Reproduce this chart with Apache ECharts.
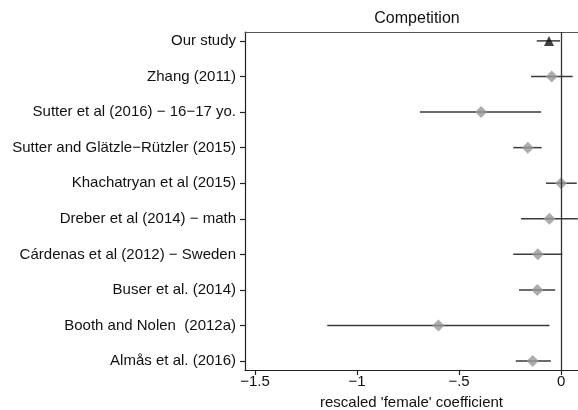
<!DOCTYPE html>
<html>
<head>
<meta charset="utf-8">
<script src="https://cdn.jsdelivr.net/npm/echarts@6/dist/echarts.min.js"></script>
<style>
html,body{margin:0;padding:0;background:#fff;}
#chart{width:578px;height:410px;}
</style>
</head>
<body>
<div id="chart"></div>
<script>
// Studies listed from bottom (position 1) to top (position 10)
const studies = [
  "Almås et al. (2016)",
  "Booth and Nolen  (2012a)",
  "Buser et al. (2014)",
  "Cárdenas et al (2012) − Sweden",
  "Dreber et al (2014) − math",
  "Khachatryan et al (2015)",
  "Sutter and Glätzle−Rützler (2015)",
  "Sutter et al (2016) − 16−17 yo.",
  "Zhang (2011)",
  "Our study"
];
const estimates = [-0.139, -0.601, -0.116, -0.114, -0.057, 0.0, -0.163, -0.392, -0.046, -0.059];
const ciLow     = [-0.222, -1.146, -0.206, -0.234, -0.196, -0.074, -0.234, -0.691, -0.147, -0.119];
const ciHigh    = [-0.050, -0.057, -0.029, 0.006, 0.082, 0.077, -0.095, -0.098, 0.057, -0.005];
const xTicks = [-1.5, -1, -0.5, 0];
const xTickLabels = ["−1.5", "−1", "−.5", "0"];

const positions = studies.map((s, i) => i + 1);
const font = "'Liberation Sans', Arial, Helvetica, sans-serif";

const ciData = studies.map((s, i) => [ciLow[i], ciHigh[i], positions[i]]);
const literature = [];
const ours = [];
studies.forEach((s, i) => {
  if (s === "Our study") ours.push([estimates[i], positions[i]]);
  else literature.push([estimates[i], positions[i]]);
});

const chart = echarts.init(document.getElementById('chart'));
chart.setOption({
  animation: false,
  backgroundColor: '#fff',
  title: {
    text: 'Competition',
    left: 412,
    top: 6,
    textAlign: 'center',
    textStyle: {fontFamily: font, fontSize: 16, fontWeight: 'normal', color: '#111'}
  },
  grid: {left: 245, right: 0, top: 32, bottom: 40, containLabel: false, outerBoundsMode: 'none'},
  xAxis: [{
    type: 'value',
    min: -1.549,
    max: 0.083,
    position: 'bottom',
    splitLine: {show: false},
    axisLine: {show: true, onZero: false, lineStyle: {color: '#222', width: 1.2}},
    axisTick: {show: true, length: 5, customValues: xTicks, lineStyle: {color: '#222', width: 1.2}},
    axisLabel: {
      customValues: xTicks,
      margin: 4,
      fontFamily: font, fontSize: 15, color: '#111',
      formatter: v => {
        const k = xTicks.findIndex(t => Math.abs(t - v) < 1e-9);
        return k >= 0 ? xTickLabels[k] : '';
      }
    },
    name: "rescaled 'female' coefficient",
    nameLocation: 'middle',
    nameGap: 25,
    nameTextStyle: {fontFamily: font, fontSize: 15, color: '#111'}
  }, {
    type: 'value',
    min: -1.549,
    max: 0.083,
    position: 'top',
    splitLine: {show: false},
    axisLine: {show: true, onZero: false, lineStyle: {color: '#555', width: 1.2}},
    axisTick: {show: false},
    axisLabel: {show: false}
  }],
  yAxis: {
    type: 'value',
    min: 0.75,
    max: 10.25,
    position: 'left',
    splitLine: {show: false},
    axisLine: {show: true, onZero: false, lineStyle: {color: '#222', width: 1.2}},
    axisTick: {show: true, length: 5, customValues: positions, lineStyle: {color: '#222', width: 1.2}},
    axisLabel: {
      customValues: positions,
      margin: 9,
      fontFamily: font, fontSize: 15, color: '#111',
      formatter: v => studies[Math.round(v) - 1] || ''
    }
  },
  series: [{
    type: 'custom',
    data: ciData,
    encode: {x: [0, 1], y: 2},
    renderItem: (params, api) => {
      const a = api.coord([api.value(0), api.value(2)]);
      const b = api.coord([api.value(1), api.value(2)]);
      return {
        type: 'line',
        shape: {x1: a[0], y1: a[1], x2: b[0], y2: b[1]},
        style: {stroke: '#3a3a3a', lineWidth: 1.5}
      };
    },
    z: 2,
    markLine: {
      silent: true,
      symbol: 'none',
      label: {show: false},
      lineStyle: {color: '#333', width: 1.3, type: 'solid'},
      data: [{xAxis: 0}]
    }
  }, {
    type: 'scatter',
    data: literature,
    symbol: 'diamond',
    symbolSize: 12,
    itemStyle: {color: '#999999'},
    z: 3
  }, {
    type: 'scatter',
    data: ours,
    symbol: 'triangle',
    symbolSize: 10,
    itemStyle: {color: '#111'},
    z: 3
  }]
});
</script>
</body>
</html>
